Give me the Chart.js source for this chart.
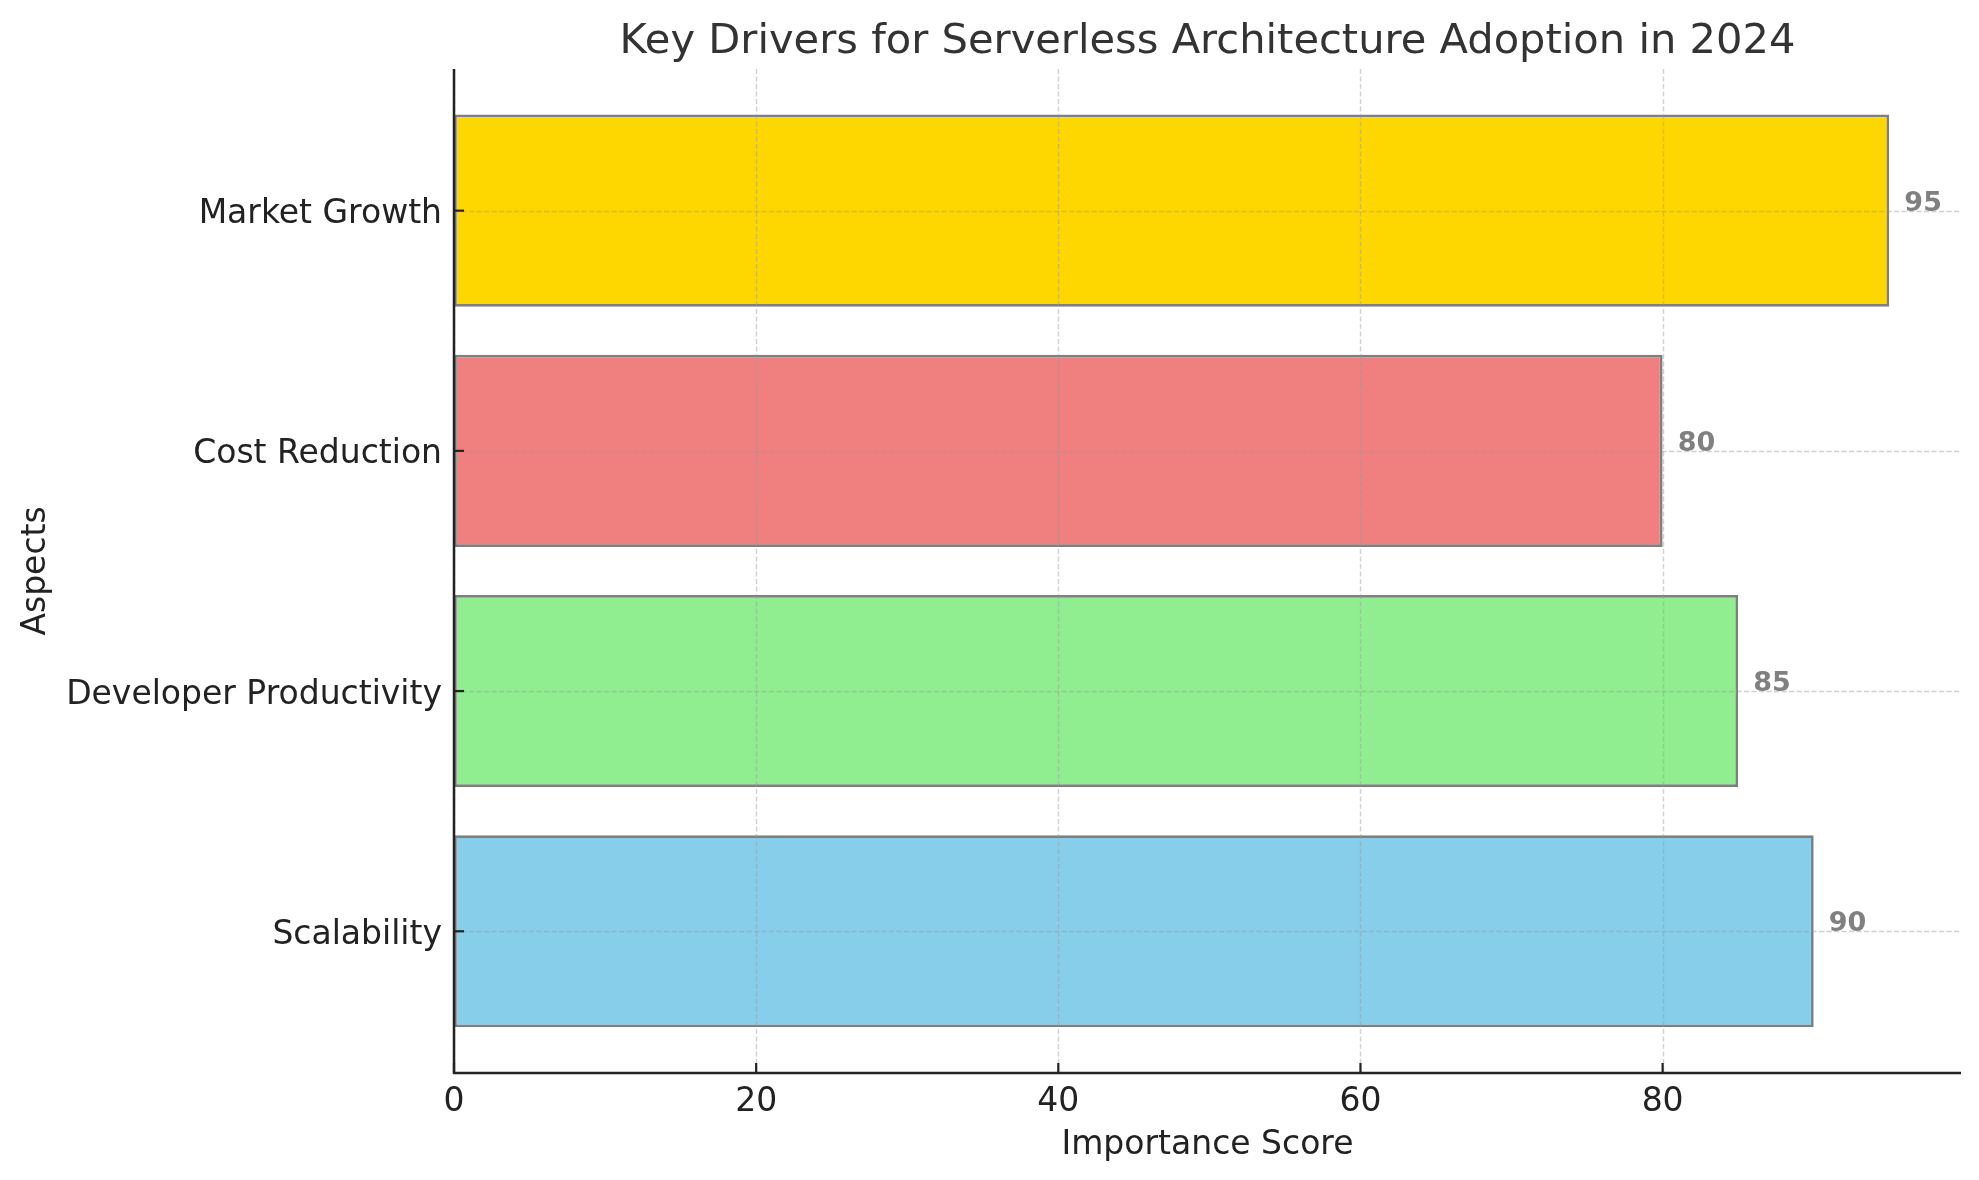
<!DOCTYPE html>
<html>
<head>
<meta charset="utf-8">
<script src="https://cdn.jsdelivr.net/npm/chart.js@4.4.1/dist/chart.umd.min.js"></script>
<style>
  html, body { margin: 0; padding: 0; background: #ffffff; }
  #wrap { width: 1979px; height: 1180px; position: relative; }
</style>
</head>
<body>
<div id="wrap"><canvas id="c"></canvas></div>
<script>
// Data (bottom to top, as in the reference)
const categories = ['Scalability', 'Developer Productivity', 'Cost Reduction', 'Market Growth'];
const scores = [90, 85, 80, 95];
const barColors = ['#87CEEB', '#90EE90', '#F08080', '#FFD700'];
const xTicks = [0, 20, 40, 60, 80];

const FONT = "'DejaVu Sans', sans-serif";

const overlayPlugin = {
  id: 'overlay',
  afterDatasetsDraw(chart) {
    const ctx = chart.ctx;
    const xs = chart.scales.x, ys = chart.scales.y;
    const a = chart.chartArea;
    ctx.save();
    // dashed grid lines drawn over the bars
    ctx.strokeStyle = 'rgba(150,150,150,0.45)';
    ctx.lineWidth = 1.4;
    ctx.setLineDash([5.2, 2.3]);
    xTicks.forEach(v => {
      const px = Math.round(xs.getPixelForValue(v)) + 0.5;
      ctx.beginPath(); ctx.moveTo(px, a.top); ctx.lineTo(px, a.bottom); ctx.stroke();
    });
    categories.forEach((c, i) => {
      const py = Math.round(ys.getPixelForValue(i)) + 0.5;
      ctx.beginPath(); ctx.moveTo(a.left, py); ctx.lineTo(a.right, py); ctx.stroke();
    });
    ctx.setLineDash([]);
    // value labels
    ctx.fillStyle = '#808080';
    ctx.font = "bold 27px " + FONT;
    ctx.textAlign = 'left';
    ctx.textBaseline = 'alphabetic';
    scores.forEach((v, i) => {
      ctx.fillText(String(v), xs.getPixelForValue(v + 1), ys.getPixelForValue(i));
    });
    // spines
    ctx.strokeStyle = '#222222';
    ctx.lineWidth = 2.5;
    ctx.beginPath();
    ctx.moveTo(a.left, a.top);
    ctx.lineTo(a.left, a.bottom);
    ctx.lineTo(a.right, a.bottom);
    ctx.stroke();
    // inward ticks
    ctx.lineWidth = 2.2;
    xTicks.forEach(v => {
      const px = xs.getPixelForValue(v);
      ctx.beginPath(); ctx.moveTo(px, a.bottom); ctx.lineTo(px, a.bottom - 10); ctx.stroke();
    });
    categories.forEach((c, i) => {
      const py = ys.getPixelForValue(i);
      ctx.beginPath(); ctx.moveTo(a.left, py); ctx.lineTo(a.left + 10, py); ctx.stroke();
    });
    ctx.restore();
  }
};

new Chart(document.getElementById('c'), {
  type: 'bar',
  data: {
    datasets: [{
      data: scores.map((v, i) => ({ x: v, y: i })),
      backgroundColor: barColors,
      borderColor: '#7f7f7f',
      borderWidth: 2.8,
      borderSkipped: false,
      barPercentage: 0.8,
      categoryPercentage: 1.0
    }]
  },
  options: {
    indexAxis: 'y',
    responsive: true,
    maintainAspectRatio: false,
    animation: false,
    devicePixelRatio: 1,
    layout: { padding: { left: 0, right: 18, top: 0, bottom: 0 } },
    plugins: {
      legend: { display: false },
      tooltip: { enabled: false },
      title: {
        display: true,
        fullSize: false,
        text: 'Key Drivers for Serverless Architecture Adoption in 2024',
        color: '#333333',
        font: { family: FONT, size: 41.6, weight: 'normal' },
        padding: { top: 17, bottom: 2 }
      }
    },
    scales: {
      x: {
        type: 'linear',
        min: 0,
        max: 99.75,
        offset: false,
        afterBuildTicks(scale) { scale.ticks = xTicks.map(v => ({ value: v })); },
        afterFit(scale) { scale.height = 107; },
        grid: { display: false, drawTicks: false, offset: false },
        border: { display: false },
        ticks: {
          color: '#222222',
          font: { family: FONT, size: 33 },
          padding: 10
        },
        title: {
          display: true,
          text: 'Importance Score',
          color: '#222222',
          font: { family: FONT, size: 33 },
          padding: { top: 0, bottom: 15 }
        }
      },
      y: {
        type: 'linear',
        min: -0.59,
        max: 3.59,
        offset: false,
        afterBuildTicks(scale) { scale.ticks = categories.map((c, i) => ({ value: i })); },
        afterFit(scale) { scale.width = 454; },
        grid: { display: false, drawTicks: false, offset: false },
        border: { display: false },
        ticks: {
          color: '#222222',
          font: { family: FONT, size: 33 },
          padding: 12,
          labelOffset: 4,
          callback: (v) => categories[v]
        },
        title: {
          display: true,
          text: 'Aspects',
          color: '#222222',
          font: { family: FONT, size: 33 },
          padding: { top: 17, bottom: 0 }
        }
      }
    }
  },
  plugins: [overlayPlugin]
});
</script>
</body>
</html>
